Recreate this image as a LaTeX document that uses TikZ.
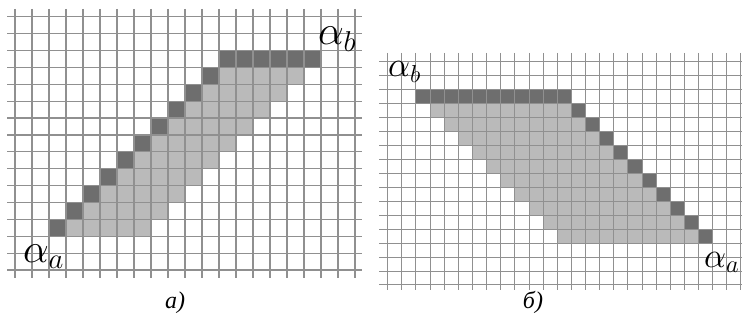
\documentclass[tikz,border=0pt]{standalone}
\usepackage{fix-cm}
\usepackage{fontspec}
\setmainfont{Liberation Serif}
\definecolor{gridgray}{HTML}{909090}
\definecolor{celldark}{HTML}{6E6E6E}
\definecolor{celllight}{HTML}{BABABA}

\begin{document}
\begin{tikzpicture}[
    x=1pt, y=-1pt,
    gridline/.style={draw=gridgray, line width=1.2pt},
    darkcell/.style={fill=celldark},
    lightcell/.style={fill=celllight},
    biglabel/.style={anchor=base west, inner sep=0pt, font=\fontsize{41}{45}\selectfont},
    smalllabel/.style={anchor=base west, inner sep=0pt, font=\fontsize{35}{39}\selectfont},
    caption/.style={inner sep=0pt, font=\fontsize{24}{28}\selectfont\itshape}
]
\useasboundingbox (0,0) rectangle (742,321);

% a) left grid
\begin{scope}[shift={(15,16.7)}, x=17pt, y=-16.89pt]
  \fill[darkcell] (12,2) rectangle (18,3);
  \foreach \r in {3,...,12} {
    \fill[darkcell] ({14-\r},\r) rectangle ({15-\r},\r+1);
    \fill[lightcell] ({15-\r},\r) rectangle ({20-\r},\r+1);
  }
  \foreach \i in {0,...,20}
    \draw[gridline] (\i,-0.46) -- (\i,15.47);
  \foreach \j in {0,...,15}
    \draw[gridline] (-0.47,\j) -- (20.4,\j);
\end{scope}

% b) right grid
\begin{scope}[shift={(387.7,61.3)}, x=14.13pt, y=-13.98pt]
  \fill[darkcell] (2,2) rectangle (13,3);
  \foreach \r in {3,...,12} {
    \fill[lightcell] (\r,\r) rectangle (\r+10,\r+1);
    \fill[darkcell] (\r+10,\r) rectangle (\r+11,\r+1);
  }
  \foreach \i in {0,...,25}
    \draw[gridline, line width=1pt] (\i,-0.6) -- (\i,16.36);
  \foreach \j in {0,...,16}
    \draw[gridline, line width=1pt] (-0.6,\j) -- (25.2,\j);
\end{scope}

\node[biglabel] (leftb) at (318,45) {$\alpha_b$};
\node[biglabel] (lefta) at (23,262) {$\alpha_a$};
\node[smalllabel] (rightb) at (388,77) {$\alpha_b$};
\node[smalllabel] (righta) at (704,267) {$\alpha_a$};

\node[caption] (capa) at (175,303) {а)};
\node[caption] (capb) at (533,302) {б)};

\end{tikzpicture}
\end{document}
